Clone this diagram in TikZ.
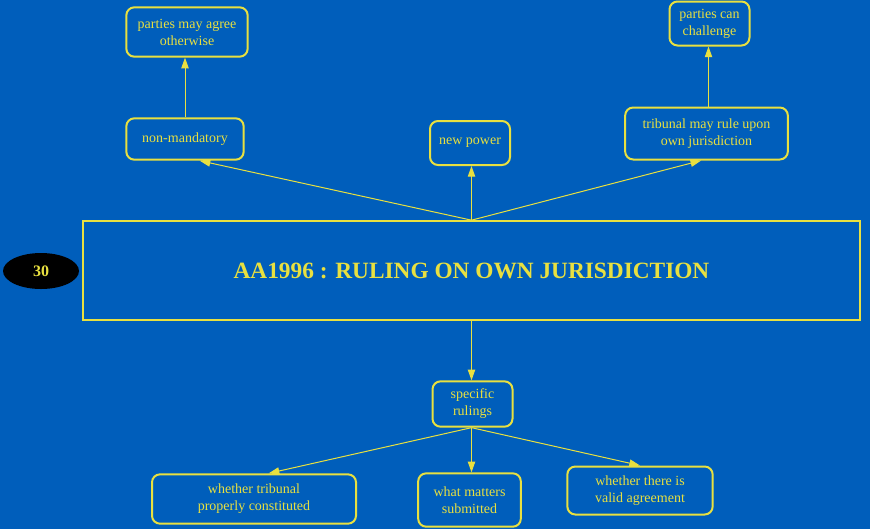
\documentclass[tikz,border=0pt]{standalone}
\usepackage{fontspec}
\setmainfont{Liberation Serif}
\usetikzlibrary{arrows.meta,shapes.geometric}
\definecolor{bgblue}{RGB}{0,94,187}
\definecolor{lineyellow}{RGB}{232,224,64}
\tikzset{
  topic/.style={rectangle, rounded corners=6pt, draw=lineyellow, line width=1.5pt, text=lineyellow, align=center, font=\fontsize{10.5}{12.75}\selectfont, inner sep=2pt},
  link/.style={draw=lineyellow, line width=0.75pt, -{Triangle[width=5.5pt,length=8pt]}}
}
\begin{document}
\begin{tikzpicture}[x=0.75pt, y=-0.75pt]
  \fill[bgblue] (0,0) rectangle (870,529);
  \useasboundingbox (0,0) rectangle (870,529);
  % Nodes
  \node (main) [rectangle, draw=lineyellow, line width=1.5pt, minimum width=583pt, minimum height=74pt, text=lineyellow, font=\fontsize{17.5}{20}\selectfont\bfseries] at (471.5, 270.5) {AA1996 : RULING ON OWN JURISDICTION};
  \node (num) [ellipse, fill=black, minimum width=57pt, minimum height=27pt, inner sep=0pt, text=lineyellow, font=\fontsize{12}{14}\selectfont\bfseries] at (41, 271) {30};
  \node (agree) [topic, minimum width=91pt, minimum height=37pt] at (187, 32) {parties may agree\\otherwise};
  \node (nonmand) [topic, minimum width=88pt, minimum height=31pt] at (185, 139) {non-mandatory};
  \node (newpower) [topic, minimum width=60pt, minimum height=33pt] at (470, 143) {new power};
  \node (tribunal) [topic, minimum width=122pt, minimum height=39pt] at (706.5, 133.5) {tribunal may rule upon\\own jurisdiction};
  \node (challenge) [topic, minimum width=60pt, minimum height=33pt] at (709.5, 23.5) {parties can\\challenge};
  \node (specific) [topic, minimum width=60pt, minimum height=34pt] at (472.5, 404) {specific\\rulings};
  \node (constituted) [topic, minimum width=153pt, minimum height=37pt] at (254, 499) {whether tribunal\\properly constituted};
  \node (matters) [topic, minimum width=77pt, minimum height=40pt] at (469.5, 500) {what matters\\submitted};
  \node (valid) [topic, minimum width=109pt, minimum height=36pt] at (640, 490.5) {whether there is\\valid agreement};
  % Arrow
  \draw[link] (main.north) -- ([xshift=11pt]nonmand.south);
  \draw[link] (main.north) -- (main.north |- newpower.south);
  \draw[link] (main.north) -- ([xshift=-4pt]tribunal.south);
  \draw[link] (nonmand.north) -- (nonmand.north |- agree.south);
  \draw[link] ([xshift=1.5pt]tribunal.north) -- ([xshift=1.5pt]tribunal.north |- challenge.south);
  \draw[link] (main.south) -- (main.south |- specific.north);
  \draw[link] (main.south |- specific.south) -- ([xshift=11pt]constituted.north);
  \draw[link] (main.south |- specific.south) -- (main.south |- matters.north);
  \draw[link] (main.south |- specific.south) -- (valid.north);
\end{tikzpicture}
\end{document}
